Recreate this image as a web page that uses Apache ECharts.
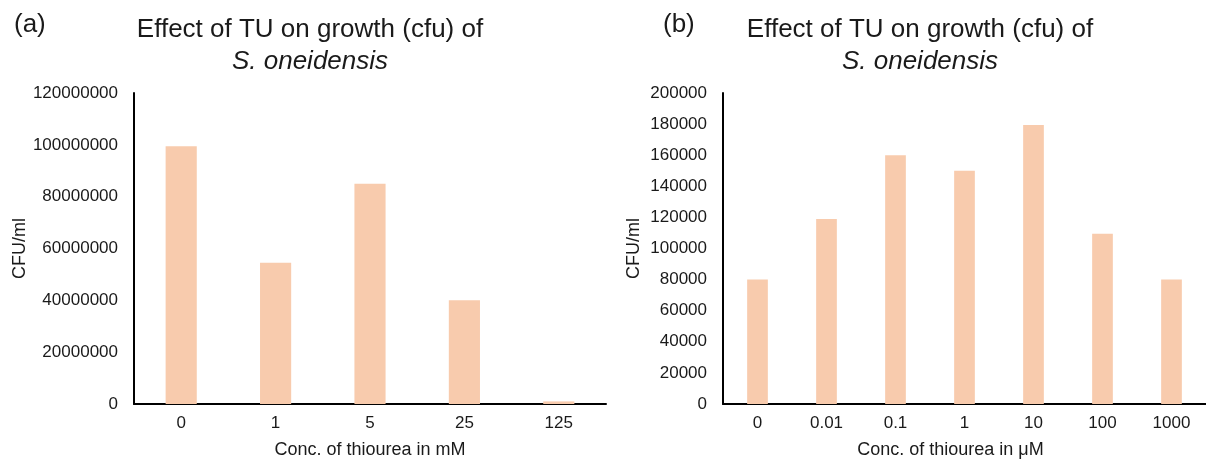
<!DOCTYPE html>
<html>
<head>
<meta charset="utf-8">
<script src="https://cdn.jsdelivr.net/npm/echarts@6/dist/echarts.min.js"></script>
<style>
  html, body { margin: 0; padding: 0; background: #fff; }
  #chart { width: 1206px; height: 465px; }
</style>
</head>
<body>
<div id="chart"></div>
<script>
// panel (a): concentration in mM
const catsA = ['0', '1', '5', '25', '125']
const cfuA = [99500000, 54500000, 85000000, 40000000, 1000000]

// panel (b): concentration in µM
const catsB = ['0', '0.01', '0.1', '1', '10', '100', '1000']
const cfuB = [80000, 119000, 160000, 150000, 179500, 109500, 80000]

const barColor = '#F8CBAD'
const font = 'Liberation Sans, Arial, sans-serif'
const txt = '#1a1a1a'

const chart = echarts.init(document.getElementById('chart'))

function titleBlock(x) {
  return {
    text: '{a|Effect of TU on growth (cfu) of}\n{b|S. oneidensis}',
    left: x,
    top: 9,
    textAlign: 'center',
    textStyle: {
      fontFamily: font,
      fontWeight: 'normal',
      rich: {
        a: { fontSize: 26, lineHeight: 32, color: txt, fontFamily: font, fontWeight: 'normal' },
        b: { fontSize: 26, lineHeight: 32, color: txt, fontFamily: font, fontWeight: 'normal', fontStyle: 'italic' },
      },
    },
  }
}

function xAxisFor(idx, cats, name, pad) {
  return {
    type: 'category',
    gridIndex: idx,
    data: cats,
    axisLine: { lineStyle: { color: '#000', width: 2 } },
    axisTick: { show: false },
    axisLabel: { color: txt, fontSize: 17, fontFamily: font, margin: 11 },
    name: name,
    nameLocation: 'middle',
    nameGap: 37,
    nameTextStyle: { color: txt, fontSize: 18, fontFamily: font, padding: pad },
  }
}

function yAxisFor(idx, max, interval, gap) {
  return {
    type: 'value',
    gridIndex: idx,
    min: 0,
    max: max,
    interval: interval,
    axisLine: { show: true, lineStyle: { color: '#000', width: 2 } },
    axisTick: { show: false },
    splitLine: { show: false },
    axisLabel: {
      color: txt,
      fontSize: 17,
      fontFamily: font,
      margin: 16,
      formatter: (v) => String(v),
    },
    name: 'CFU/ml',
    nameLocation: 'middle',
    nameGap: gap,
    nameTextStyle: { color: txt, fontSize: 18, fontFamily: font },
  }
}

const option = {
  animation: false,
  backgroundColor: '#fff',
  title: [
    { text: '(a)', left: 9, top: 7, textStyle: { fontSize: 26, fontWeight: 'normal', color: txt, fontFamily: font } },
    { text: '(b)', left: 658, top: 7, textStyle: { fontSize: 26, fontWeight: 'normal', color: txt, fontFamily: font } },
    titleBlock(305),
    titleBlock(915),
  ],
  grid: [
    { left: 134, top: 93, width: 472, bottom: 61 },
    { left: 723, top: 93, right: 0, bottom: 61 },
  ],
  xAxis: [
    xAxisFor(0, catsA, 'Conc. of thiourea in mM', 0),
    xAxisFor(1, catsB, 'Conc. of thiourea in μM', [0, 28, 0, 0]),
  ],
  yAxis: [
    yAxisFor(0, 120000000, 20000000, 102),
    yAxisFor(1, 200000, 20000, 80),
  ],
  series: [
    {
      type: 'bar',
      xAxisIndex: 0,
      yAxisIndex: 0,
      data: cfuA,
      barWidth: '33%',
      itemStyle: { color: barColor },
    },
    {
      type: 'bar',
      xAxisIndex: 1,
      yAxisIndex: 1,
      data: cfuB,
      barWidth: '30%',
      itemStyle: { color: barColor },
    },
  ],
}

chart.setOption(option)
</script>
</body>
</html>
